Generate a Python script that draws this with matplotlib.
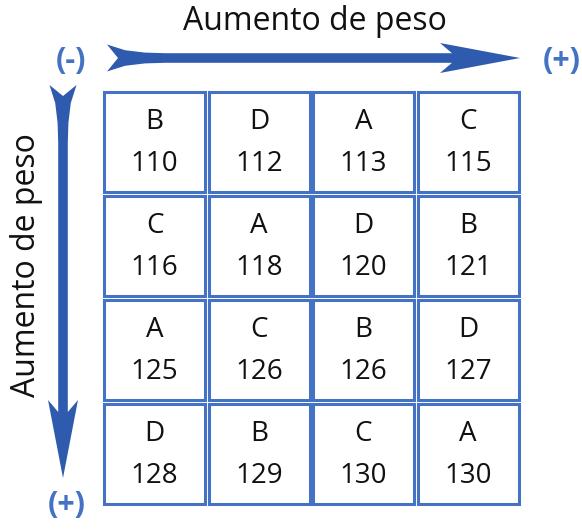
import matplotlib
matplotlib.use("Agg")
import matplotlib.pyplot as plt
from matplotlib.patches import Rectangle, Polygon

# grid contents (row by row, top to bottom)
letters = [["B", "D", "A", "C"],
           ["C", "A", "D", "B"],
           ["A", "C", "B", "D"],
           ["D", "B", "C", "A"]]
values = [[110, 112, 113, 115],
          [116, 118, 120, 121],
          [125, 126, 126, 127],
          [128, 129, 130, 130]]
axis_label = "Aumento de peso"
minus_label = "(-)"
plus_label = "(+)"

box_color = "#4472C4"
arrow_color = "#2E5BAD"
font = ["Open Sans", "DejaVu Sans"]

W, H = 582, 529
fig = plt.figure(figsize=(W / 100, H / 100), dpi=100)
ax = fig.add_axes([0, 0, 1, 1])
ax.set_xlim(0, W)
ax.set_ylim(H, 0)
ax.axis("off")

# grid geometry (pixels)
x0, y0 = 104, 92
pitch_x, pitch_y = 104.5, 104
box_w, box_h = 101, 100

for i, row in enumerate(letters):
    for j, let in enumerate(row):
        bx = x0 + j * pitch_x
        by = y0 + i * pitch_y
        ax.add_patch(Rectangle((bx, by), box_w, box_h, fill=False,
                               edgecolor=box_color, linewidth=2.2))
        cx = bx + box_w / 2
        ax.text(cx, by + 30, let, ha="center", va="center", fontsize=20,
                family=font, color="#111111")
        ax.text(cx, by + 72, str(values[i][j]), ha="center", va="center",
                fontsize=20, family=font, color="#111111")


def arrow_shape(length, tail_w=13.5, shaft_w=4.8, head_w=15, head_len=80):
    # outline along the arrow axis: (distance along, offset across)
    L = length
    return [
        (0, -tail_w), (18, -7.8), (38, -5.4), (58, -shaft_w),
        (L - head_len + 12, -shaft_w), (L - head_len, -head_w), (L, 0),
        (L - head_len, head_w), (L - head_len + 12, shaft_w),
        (58, shaft_w), (38, 5.4), (18, 7.8), (0, tail_w), (11, 0),
    ]


# horizontal arrow
hy = 58
pts = [(107 + a, hy + b) for a, b in arrow_shape(520 - 107)]
ax.add_patch(Polygon(pts, closed=True, facecolor=arrow_color, edgecolor="none"))

# vertical arrow
vx = 63
pts = [(vx + b, 85 + a) for a, b in arrow_shape(478 - 85, head_len=78)]
ax.add_patch(Polygon(pts, closed=True, facecolor=arrow_color, edgecolor="none"))

ax.text(315, 22, axis_label, ha="center", va="center", fontsize=23,
        family=font, color="#111111")
ax.text(27, 265, axis_label, ha="center", va="center", fontsize=23,
        family=font, color="#111111", rotation=90)

ax.text(71, 61, minus_label, ha="center", va="center", fontsize=22,
        family=font, color=box_color, fontweight="bold")
ax.text(562, 61, plus_label, ha="center", va="center", fontsize=22,
        family=font, color=box_color, fontweight="bold")
ax.text(67, 505, plus_label, ha="center", va="center", fontsize=22,
        family=font, color=box_color, fontweight="bold")

fig.savefig("out.png", dpi=100, facecolor="white")
